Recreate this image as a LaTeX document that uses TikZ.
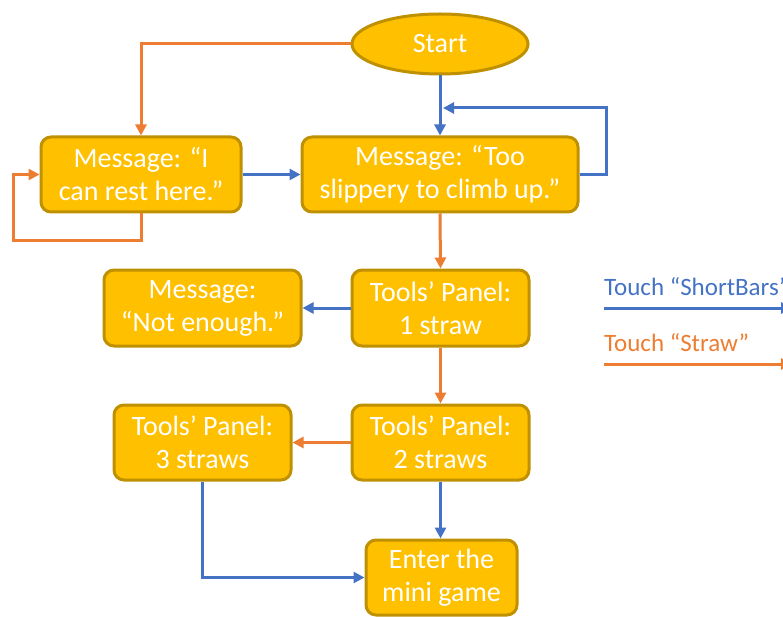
\documentclass[tikz,border=0pt]{standalone}
\usepackage{fontspec}
\setmainfont{Carlito}
\usetikzlibrary{arrows.meta,shapes.geometric,calc}

\definecolor{boxfill}{HTML}{FFC000}
\definecolor{boxline}{HTML}{BF9000}
\definecolor{straw}{HTML}{ED7D31}
\definecolor{bars}{HTML}{4472C4}

\tikzset{
  stepbox/.style={draw=boxline, fill=boxfill, line width=3pt, rounded corners=10pt,
    text=white, align=center, inner sep=0pt,
    font=\fontsize{28}{33}\selectfont},
  startnode/.style={ellipse, draw=boxline, fill=boxfill, line width=3pt,
    text=white, inner sep=0pt, minimum width=176pt, minimum height=60pt,
    font=\fontsize{28}{33}\selectfont},
  link/.style={line width=3pt, -{Triangle[length=11pt,width=11pt]}},
  orangeline/.style={draw=straw},
  blueline/.style={draw=bars},
  legendtext/.style={anchor=west, inner sep=0pt, font=\fontsize{25}{28}\selectfont}
}

\begin{document}
\begin{tikzpicture}[x=1pt,y=-1pt]
\useasboundingbox (0,0) rectangle (783,617);
\clip (0,0) rectangle (783,617);

% flowchart nodes
\node[startnode] (start) at (440,44) {Start};
\node[stepbox, minimum width=200pt, minimum height=75pt] (rest) at (141,174.5)
  {Message: “I\\can rest here.”};
\node[stepbox, minimum width=276pt, minimum height=75pt] (slip) at (440,174.5)
  {Message: “Too\\slippery to climb up.”};
\node[stepbox, minimum width=197pt, minimum height=76pt] (notenough) at (202.5,308)
  {Message:\\“Not enough.”};
\node[stepbox, minimum width=177pt, minimum height=76pt] (one) at (440.5,308)
  {Tools’ Panel:\\1 straw};
\node[stepbox, minimum width=177pt, minimum height=75pt] (three) at (202.5,442.5)
  {Tools’ Panel:\\3 straws};
\node[stepbox, minimum width=177pt, minimum height=75pt] (two) at (440.5,442.5)
  {Tools’ Panel:\\2 straws};
\node[stepbox, minimum width=151pt, minimum height=75pt] (game) at (441.5,577.5)
  {Enter the\\mini game};

% helper points for the bent connectors
\coordinate (restlow) at (13,241);
\coordinate (slipright) at (606,108);
\coordinate (slipback) at (443,108);

% "Straw" connectors
\draw[link, orangeline] (start.west) -| (rest.north);
\draw[link, orangeline] (rest.south) |- (restlow) |- (rest.west);
\draw[link, orangeline] (slip.south) -- (one.north);
\draw[link, orangeline] (one.south) -- (two.north);
\draw[link, orangeline] (two.west) -- (three.east);

% "ShortBars" connectors
\draw[link, blueline] (start.south) -- (slip.north);
\draw[link, blueline] (rest.east) -- (slip.west);
\draw[link, blueline] (slip.east) -| (slipright) -- (slipback);
\draw[link, blueline] (one.west) -- (notenough.east);
\draw[link, blueline] (two.south) -- (two.south |- game.north);
\draw[link, blueline] (three.south) |- (game.west);

% legend
\node[legendtext, text=bars] (keybars) at (604,287) {Touch “ShortBars”};
\node[legendtext, text=straw] (keystraw) at (604,343) {Touch “Straw”};
\coordinate (barsA) at (604,308);
\coordinate (barsB) at (792,308);
\coordinate (strawA) at (604,364);
\coordinate (strawB) at (792,364);
\draw[link, blueline] (barsA) -- (barsB);
\draw[link, orangeline] (strawA) -- (strawB);
\end{tikzpicture}
\end{document}
